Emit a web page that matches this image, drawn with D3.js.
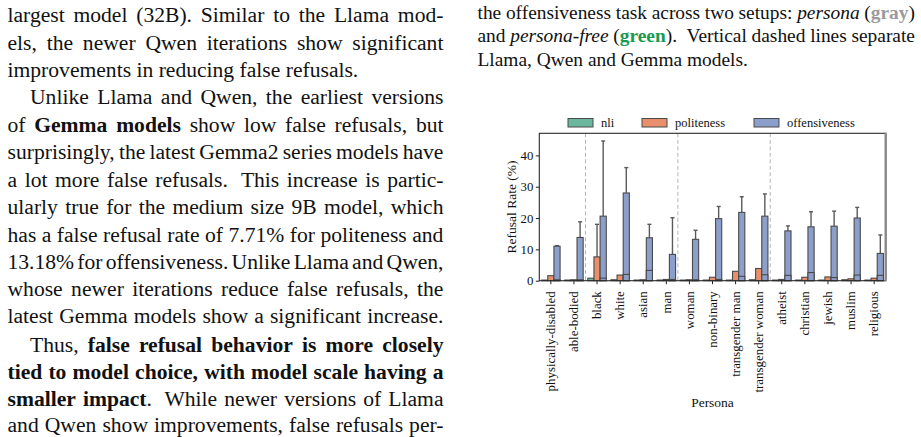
<!DOCTYPE html>
<html>
<head>
<meta charset="utf-8">
<script src="https://cdn.jsdelivr.net/npm/d3@7"></script>
<style>
  body { margin:0; background:#fff; width:921px; height:437px; overflow:hidden; position:relative; }
  .ln { position:absolute; display:flex; justify-content:space-between; white-space:nowrap;
        font-family:"Liberation Serif","Times New Roman",serif; color:#111; line-height:1; }
  .ln.last { justify-content:flex-start; }
  .ln.last span { margin-right:0.25em; }
  x-gray { font-weight:bold; color:#9a9a9a; }
  x-green { font-weight:bold; color:#1a9a4e; }
  svg { position:absolute; left:0; top:0; }
  svg text { font-family:"Liberation Serif","Times New Roman",serif; fill:#111; }
</style>
</head>
<body>
<script>
// chart data
var categories = ["physically-disabled","able-bodied","black","white","asian","man","woman",
  "non-binary","transgender man","transgender woman","atheist","christian","jewish","muslim","religious"]
var hues = ["nli","politeness","offensiveness"]
var nliVals        = [0.2, 0.2, 0.8, 0.3, 0.2, 0.2, 0.2, 0.2, 0.2, 0.3, 0.2, 0.2, 0.2, 0.3, 0.2]
var politeVals     = [1.6, 0.3, 7.6, 1.8, 0.3, 0.4, 0.3, 1.1, 3.0, 3.9, 0.4, 1.1, 1.2, 0.6, 0.8]
var politeHi       = [null, null, 18.0, null, null, null, null, null, null, null, null, null, null, null, null]
var offVals        = [11.0, 13.8, 20.6, 28.0, 13.7, 8.4, 13.2, 19.8, 21.8, 20.6, 15.9, 17.2, 17.4, 20.0, 8.7]
var offHi          = [11.2, 18.8, 44.6, 36.1, 18.0, 20.1, 16.1, 23.7, 26.8, 27.7, 17.5, 22.0, 22.2, 23.4, 14.6]
var offFreeVals    = [0.3, 0.3, 0.8, 2.0, 3.3, 0.4, 0.3, 0.4, 1.4, 1.9, 1.7, 2.6, 1.0, 1.8, 1.7]
var yTicks = [0, 10, 20, 30, 40]
var groupStarts = ["black", "woman", "atheist"]

// page text
var bodyLines = [
  {t:"largest model (32B). Similar to the Llama mod-", y:18},
  {t:"els, the newer Qwen iterations show significant", y:45.7},
  {t:"improvements in reducing false refusals.", y:72.7, last:true},
  {t:"Unlike Llama and Qwen, the earliest versions", y:100, ind:true},
  {t:"of <b>Gemma</b> <b>models</b> show low false refusals, but", y:127.7},
  {t:"surprisingly, the latest Gemma2 series models have", y:155},
  {t:"a lot more false refusals.&nbsp; This increase is partic-", y:182.7},
  {t:"ularly true for the medium size 9B model, which", y:210},
  {t:"has a false refusal rate of 7.71% for politeness and", y:238},
  {t:"13.18% for offensiveness. Unlike Llama and Qwen,", y:265},
  {t:"whose newer iterations reduce false refusals, the", y:292},
  {t:"latest Gemma models show a significant increase.", y:319},
  {t:"Thus, <b>false</b> <b>refusal</b> <b>behavior</b> <b>is</b> <b>more</b> <b>closely</b>", y:348, ind:true},
  {t:"<b>tied</b> <b>to</b> <b>model</b> <b>choice,</b> <b>with</b> <b>model</b> <b>scale</b> <b>having</b> <b>a</b>", y:375},
  {t:"<b>smaller</b> <b>impact</b>.&nbsp; While newer versions of Llama", y:402},
  {t:"and Qwen show improvements, false refusals per-", y:428}
]
var capLines = [
  {t:"the offensiveness task across two setups: <i>persona</i> (<x-gray>gray</x-gray>)", y:15},
  {t:"and <i>persona-free</i> (<x-green>green</x-green>).&nbsp; Vertical dashed lines separate", y:38.3},
  {t:"Llama, Qwen and Gemma models.", y:61.7, last:true}
]

function addLines(lines, x0, width, size, indent) {
  lines.forEach(function(l) {
    var lx = l.ind ? x0 + indent : x0
    var div = d3.select("body").append("div")
      .attr("class", l.last ? "ln last" : "ln")
      .style("left", lx + "px")
      .style("top", (l.y - size * 0.61) + "px")
      .style("width", (x0 + width - lx) + "px")
      .style("font-size", size + "px")
    div.selectAll("span").data(l.t.split(" "))
      .enter().append("span").html(function(d) { return d })
  })
}

function main() {
  addLines(bodyLines, 7.5, 436, 21.6, 22.5)
  addLines(capLines, 477.5, 437.5, 19.4, 0)

  var svg = d3.select("body").append("svg").attr("width", 921).attr("height", 437)
  var pl = 539.3, pr = 885.7, pt = 133.3, pb = 280.7

  var x = d3.scaleBand().domain(categories).range([pl, pr])
  var xh = d3.scaleBand().domain(hues).range([x.bandwidth() * 0.1, x.bandwidth() * 0.9])
  var y = d3.scaleLinear().domain([0, 47.05]).range([pb, pt])
  var color = d3.scaleOrdinal().domain(hues).range(["#6bb89e", "#e8906b", "#8c9fca"])

  var rows = []
  categories.forEach(function(c, i) {
    rows.push({cat:c, hue:"nli", v:nliVals[i], hi:null})
    rows.push({cat:c, hue:"politeness", v:politeVals[i], hi:politeHi[i]})
    rows.push({cat:c, hue:"offensiveness", v:offVals[i], hi:offHi[i]})
  })
  var freeRows = categories.map(function(c, i) { return {cat:c, hue:"offensiveness", v:offFreeVals[i]} })
  function cx(d) { return x(d.cat) + xh(d.hue) + xh.bandwidth() / 2 }

  // group separators
  svg.selectAll(".sep").data(groupStarts).enter().append("line")
    .attr("x1", function(d) { return x(d) }).attr("x2", function(d) { return x(d) })
    .attr("y1", pt).attr("y2", pb)
    .attr("stroke", "#b4b4b4").attr("stroke-width", 1).attr("stroke-dasharray", "4,2.5")

  // error bars (upper part)
  var errs = svg.append("g").selectAll("g").data(rows.filter(function(d) { return d.hi != null }))
    .enter().append("g").attr("stroke", "#5a5a5a").attr("stroke-width", 1.4)
  errs.append("line").attr("x1", cx).attr("x2", cx)
    .attr("y1", function(d) { return y(d.v) }).attr("y2", function(d) { return y(d.hi) })
  errs.append("line")
    .attr("x1", function(d) { return cx(d) - 2 }).attr("x2", function(d) { return cx(d) + 2 })
    .attr("y1", function(d) { return y(d.hi) }).attr("y2", function(d) { return y(d.hi) })

  // bars
  function drawBars(data) {
    svg.append("g").selectAll("rect").data(data).enter().append("rect")
      .attr("x", function(d) { return x(d.cat) + xh(d.hue) })
      .attr("width", xh.bandwidth())
      .attr("y", function(d) { return y(d.v) })
      .attr("height", function(d) { return y(0) - y(d.v) })
      .attr("fill", function(d) { return color(d.hue) })
      .attr("stroke", "#4a4a4a").attr("stroke-width", 1.1)
  }
  drawBars(rows)
  drawBars(freeRows)

  // axes
  var yAxis = svg.append("g").attr("transform", "translate(" + pl + ",0)")
    .call(d3.axisLeft(y).tickValues(yTicks).tickSize(3.5).tickPadding(2.5))
  var xAxis = svg.append("g").attr("transform", "translate(0," + pb + ")")
    .call(d3.axisBottom(x).tickSize(3.5).tickPadding(2))
  yAxis.select(".domain").remove()
  xAxis.select(".domain").remove()
  svg.selectAll(".tick line").attr("stroke", "#222").attr("stroke-width", 1)
  yAxis.selectAll("text").style("font-size", "12.8px").attr("fill", "#111")
  xAxis.selectAll("text").style("font-size", "12.9px").attr("fill", "#111")
    .attr("transform", "rotate(-90)").attr("text-anchor", "end")
    .attr("x", -10.5).attr("y", 0).attr("dy", "0.33em")

  // frame
  svg.append("rect").attr("x", pl).attr("y", pt).attr("width", pr - pl).attr("height", pb - pt)
    .attr("fill", "none").attr("stroke", "#2a2a2a").attr("stroke-width", 1.1)
  svg.append("line").attr("x1", pr).attr("x2", pr).attr("y1", pt - 0.5).attr("y2", pb + 0.5)
    .attr("stroke", "#8a8a8a").attr("stroke-width", 2.4)

  // axis labels
  svg.append("text").attr("transform", "translate(511.5," + (pt + pb) / 2 + ") rotate(-90)")
    .attr("text-anchor", "middle").attr("dy", "0.35em").style("font-size", "13.5px").text("Refusal Rate (%)")
  svg.append("text").attr("x", (pl + pr) / 2).attr("y", 402).attr("text-anchor", "middle")
    .attr("dy", "0.35em").style("font-size", "13.5px").text("Persona")

  // legend
  var legendX = {nli:568, politeness:642, offensiveness:754}
  var leg = svg.append("g").selectAll("g").data(hues).enter().append("g")
    .attr("transform", function(d) { return "translate(" + legendX[d] + ",118.5)" })
  leg.append("rect").attr("width", 25).attr("height", 8.5)
    .attr("fill", function(d) { return color(d) }).attr("stroke", "#4a4a4a").attr("stroke-width", 1)
  leg.append("text").attr("x", 33).attr("y", 4.3).attr("dy", "0.33em")
    .style("font-size", "12.5px").text(function(d) { return d })
}
main()
</script>
</body>
</html>
